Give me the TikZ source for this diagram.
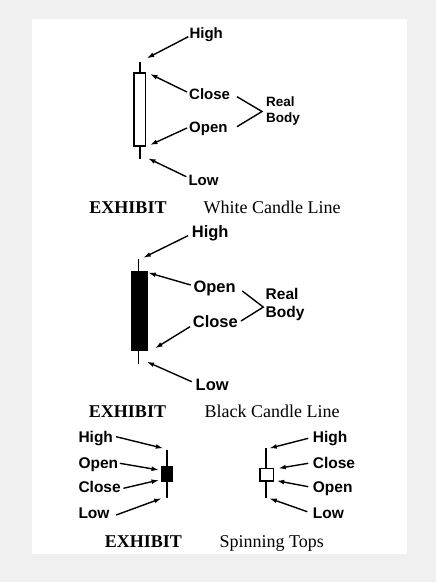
\documentclass[tikz,border=0pt]{standalone}
\usepackage{fontspec}
\setmainfont{Liberation Serif}
\newfontfamily\lblfont{Liberation Sans}
\usetikzlibrary{arrows.meta}
\definecolor{pagegray}{HTML}{F0F0F0}
\tikzset{
  lbl/.style={font=\lblfont\bfseries\fontsize{15}{18}\selectfont, inner sep=1pt, text height=10.7pt, text depth=0pt, anchor=west},
  lblbig/.style={lbl, font=\lblfont\bfseries\fontsize{16.5}{19.5}\selectfont, text height=11.8pt},
  lblmid/.style={lbl, font=\lblfont\bfseries\fontsize{15.5}{18.5}\selectfont, text height=11.1pt},
  rbsmall/.style={font=\lblfont\bfseries\fontsize{13.5}{16}\selectfont, align=left, inner sep=1pt, anchor=west},
  rbbig/.style={font=\lblfont\bfseries\fontsize{15.5}{18.5}\selectfont, align=left, inner sep=1pt, anchor=west},
  captxt/.style={font=\fontsize{18}{21}\selectfont, inner sep=0pt, text height=12pt, text depth=0pt},
  captxtb/.style={captxt, font=\fontsize{18}{21}\selectfont\bfseries},
  arr/.style={line width=1.4pt, -{Latex[length=7.5pt,width=4.8pt]}},
  brk/.style={line width=1.4pt},
  wick/.style={line width=1.7pt},
  wbody/.style={line width=1.5pt, draw=black, fill=white},
  bbody/.style={line width=1pt, draw=black, fill=black},
}
\begin{document}
\begin{tikzpicture}[x=1pt,y=-1pt]
\useasboundingbox (0,0) rectangle (436,582);
\fill[pagegray] (0,0) rectangle (436,582);
\fill[white] (32,19) rectangle (407,554);

% ---------- White candle ----------
\draw[wick] (140,61.7) -- (140,73);
\draw[wick] (140,146) -- (140,159);
\draw[wbody] (134,73) rectangle (145.5,146);
\coordinate (wHighT) at (146.7,58.3);
\coordinate (wCloseT) at (150,74);
\coordinate (wOpenT) at (150,145);
\coordinate (wLowT) at (148,158.3);
\node[lbl] (wHigh) at (188.3,33) {High};
\node[lbl] (wClose) at (188,94) {Close};
\node[lbl] (wOpen) at (188,127) {Open};
\node[lbl] (wLow) at (187.3,180) {Low};
\node[rbsmall] (wReal) at (265,111.5) {Real\\Body};
\draw[arr] ([yshift=-3.7pt]wHigh.west) -- (wHighT);
\draw[arr] ([xshift=-1pt,yshift=2pt]wClose.west) -- (wCloseT);
\draw[arr] ([xshift=-1pt,yshift=-1pt]wOpen.west) -- (wOpenT);
\draw[arr] ([xshift=-1pt,yshift=3.3pt]wLow.west) -- (wLowT);
\coordinate (wC) at ([xshift=49pt,yshift=-2.7pt]wClose.west);
\coordinate (wO) at ([xshift=49pt,yshift=0.3pt]wOpen.west);
\draw[brk] (wC) -- ([xshift=-3pt]wReal.west) -- (wO);
\node[captxtb] (wEx) at (128,207) {EXHIBIT};
\node[captxt] (wT) at (272,207) {White Candle Line};

% ---------- Black candle ----------
\draw[wick] (138.5,259) -- (138.5,271);
\draw[wick] (138.5,350) -- (138.5,364);
\draw[bbody] (131,271) rectangle (147,350);
\coordinate (bHighT) at (143.3,257.7);
\coordinate (bOpenT) at (148.3,272.7);
\coordinate (bCloseT) at (155,348.3);
\coordinate (bLowT) at (146.7,361.7);
\node[lblbig] (bHigh) at (190.7,231.7) {High};
\node[lblbig] (bOpen) at (192.3,287) {Open};
\node[lblbig] (bClose) at (191.7,321.7) {Close};
\node[lblbig] (bLow) at (194.5,385) {Low};
\node[rbbig] (bReal) at (264.5,304.7) {Real\\Body};
\draw[arr] ([xshift=-2.7pt,yshift=-4pt]bHigh.west) -- (bHighT);
\draw[arr] ([xshift=-1.6pt,yshift=2pt]bOpen.west) -- (bOpenT);
\draw[arr] ([xshift=-1.7pt,yshift=-5pt]bClose.west) -- (bCloseT);
\draw[arr] ([xshift=-2.8pt,yshift=3.3pt]bLow.west) -- (bLowT);
\coordinate (bO) at ([xshift=50pt,yshift=-4pt]bOpen.west);
\coordinate (bC) at ([xshift=49.3pt,yshift=0.7pt]bClose.west);
\draw[brk] (bO) -- ([xshift=-1.2pt,yshift=-2.4pt]bReal.west) -- (bC);
\node[captxtb] (bEx) at (127.5,411) {EXHIBIT};
\node[captxt] (bT) at (272,411) {Black Candle Line};

% ---------- Spinning tops: black ----------
\draw[wick] (166.7,450) -- (166.7,498.3);
\draw[bbody] (161,466.7) rectangle (172.3,481.7);
\coordinate (sHighT) at (163.3,448.3);
\coordinate (sOpenT) at (159,470);
\coordinate (sCloseT) at (159,480);
\coordinate (sLowT) at (161.7,498.3);
\node[lblmid] (sHigh) at (77.3,436.7) {High};
\node[lblmid] (sOpen) at (77.3,462.7) {Open};
\node[lblmid] (sClose) at (77.3,487.3) {Close};
\node[lblmid] (sLow) at (77.3,512.7) {Low};
\draw[arr] ([xshift=2pt]sHigh.east) -- (sHighT);
\draw[arr] ([xshift=0.5pt,yshift=-0.6pt]sOpen.east) -- (sOpenT);
\draw[arr] ([xshift=1.5pt,yshift=-1pt]sClose.east) -- (sCloseT);
\draw[arr] ([xshift=5.5pt,yshift=-2.3pt]sLow.east) -- (sLowT);

% ---------- Spinning tops: white ----------
\draw[wick] (266,448.3) -- (266,498.3);
\draw[wbody] (260,468.3) rectangle (273.3,481);
\coordinate (tHighT) at (269.3,448.3);
\coordinate (tCloseT) at (278.3,468.3);
\coordinate (tOpenT) at (276.7,480.7);
\coordinate (tLowT) at (269.3,498.3);
\node[lblmid] (tHigh) at (311.7,436.7) {High};
\node[lblmid] (tClose) at (311.7,462.7) {Close};
\node[lblmid] (tOpen) at (311.7,487.3) {Open};
\node[lblmid] (tLow) at (311.7,512.7) {Low};
\draw[arr] ([xshift=-3.4pt,yshift=-1.6pt]tHigh.west) -- (tHighT);
\draw[arr] ([xshift=-3.4pt,yshift=-0.6pt]tClose.west) -- (tCloseT);
\draw[arr] ([xshift=-3.4pt,yshift=0.6pt]tOpen.west) -- (tOpenT);
\draw[arr] ([xshift=-4.4pt,yshift=1pt]tLow.west) -- (tLowT);
\node[captxtb] (sEx) at (143.3,541.5) {EXHIBIT};
\node[captxt] (sT) at (271.7,541.5) {Spinning Tops};
\end{tikzpicture}
\end{document}
